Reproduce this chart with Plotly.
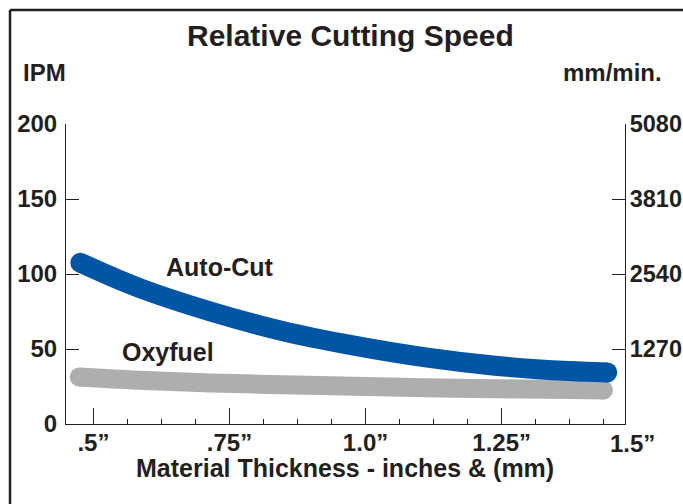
import plotly.graph_objects as go

# ---- data ----
auto_cut_thickness_in = [0.476, 0.582, 0.715, 0.847, 0.979, 1.110, 1.242, 1.374, 1.444]
auto_cut_ipm = [107.5, 91.0, 75.0, 62.0, 52.2, 44.4, 38.7, 35.3, 34.4]
oxyfuel_thickness_in = [0.474, 0.582, 0.715, 0.847, 0.979, 1.110, 1.242, 1.374, 1.437]
oxyfuel_ipm = [31.3, 29.2, 27.4, 26.2, 25.1, 24.2, 23.5, 23.0, 22.7]

x_tick_vals = [0.5, 0.75, 1.0, 1.25]
x_tick_text = [".5\u201d", ".75\u201d", "1.0\u201d", "1.25\u201d"]
x_last_tick_text = "1.5\u201d"
ipm_ticks = [0, 50, 100, 150, 200]
mm_ticks = [1270, 2540, 3810, 5080]

BLUE = "#0055A5"
GRAY = "#ADAEB0"
INK = "#231F20"
FONT = "Liberation Sans, Arial, Helvetica, sans-serif"

W, H = 683, 504
# plot box in page pixels
L, R, T, B = 66, 625, 124, 424


def px(xpage):
    return (xpage - L) / (R - L)


def py(ypage):
    return (B - ypage) / (B - T)


fig = go.Figure()


def add_band(xs, ys, color, width):
    fig.add_trace(go.Scatter(
        x=xs, y=ys, mode="lines",
        line=dict(color=color, width=width, shape="spline", smoothing=1.0),
        showlegend=False, hoverinfo="skip",
    ))
    fig.add_trace(go.Scatter(
        x=[xs[0], xs[-1]], y=[ys[0], ys[-1]], mode="markers",
        marker=dict(color=color, size=width, opacity=1, line=dict(width=0)),
        showlegend=False, hoverinfo="skip",
    ))


add_band(oxyfuel_thickness_in, oxyfuel_ipm, GRAY, 19)
add_band(auto_cut_thickness_in, auto_cut_ipm, BLUE, 20)
fig.add_trace(go.Scatter(x=[None], y=[None], yaxis="y2", showlegend=False))

tickfont = dict(family=FONT, size=24, color=INK, weight="bold")
righttickfont = dict(family=FONT, size=23.5, color=INK, weight="bold")
labelfont = dict(family=FONT, size=25, color=INK, weight="bold")

fig.update_layout(
    template="none",
    width=W, height=H,
    margin=dict(l=L, r=W - R, t=T, b=H - B, autoexpand=False),
    paper_bgcolor="white", plot_bgcolor="white",
    showlegend=False,
    xaxis=dict(
        range=[0.4497, 1.4766], showgrid=False, zeroline=False, automargin=False,
        showline=True, linecolor=INK, linewidth=1,
        tickmode="array", tickvals=x_tick_vals, ticktext=x_tick_text,
        ticks="inside", ticklen=16, tickcolor=INK, tickwidth=1,
        tickfont=tickfont, ticklabelstandoff=-3,
        minor=dict(ticks="inside", ticklen=5, tickcolor=INK, dtick=0.0625, tick0=0.5,
                   showgrid=False),
    ),
    yaxis=dict(
        range=[0, 200], showgrid=False, zeroline=False, automargin=False,
        showline=True, linecolor=INK, linewidth=1,
        tickmode="array", tickvals=ipm_ticks,
        ticks="inside", ticklen=13, tickcolor=INK, tickwidth=1,
        tickfont=tickfont, ticklabelstandoff=3,
    ),
    yaxis2=dict(
        range=[0, 5080], overlaying="y", side="right", showgrid=False, zeroline=False,
        automargin=False,
        showline=True, linecolor=INK, linewidth=1,
        tickmode="array", tickvals=mm_ticks,
        ticks="inside", ticklen=13, tickcolor=INK, tickwidth=1,
        tickfont=righttickfont, ticklabelstandoff=-1,
    ),
    shapes=[
        dict(type="line", xref="paper", yref="paper", x0=px(10), x1=px(700), y0=py(10), y1=py(10),
             line=dict(color=INK, width=2.5)),
        dict(type="line", xref="paper", yref="paper", x0=px(10), x1=px(10), y0=py(10), y1=py(520),
             line=dict(color=INK, width=2.5)),
    ],
    annotations=[
        dict(text="Relative Cutting Speed", xref="paper", yref="paper", x=px(350), y=py(35),
             xanchor="center", yanchor="middle", showarrow=False,
             font=dict(family=FONT, size=30, color=INK, weight="bold")),
        dict(text="IPM", xref="paper", yref="paper", x=px(21), y=py(72),
             xanchor="left", yanchor="middle", showarrow=False, font=tickfont),
        dict(text="mm/min.", xref="paper", yref="paper", x=px(664), y=py(72),
             xanchor="right", yanchor="middle", showarrow=False, font=tickfont),
        dict(text="Material Thickness - inches & (mm)", xref="paper", yref="paper",
             x=px(345), y=py(468), xanchor="center", yanchor="middle", showarrow=False,
             font=labelfont),
        dict(text=x_last_tick_text, xref="paper", yref="paper", x=px(632), y=py(443),
             xanchor="center", yanchor="middle", showarrow=False, font=tickfont),
        dict(text="Auto-Cut", xref="x", yref="y", x=0.732, y=104.5,
             xanchor="center", yanchor="middle", showarrow=False, font=labelfont),
        dict(text="Oxyfuel", xref="x", yref="y", x=0.637, y=48,
             xanchor="center", yanchor="middle", showarrow=False, font=labelfont),
    ],
)

fig.write_html(
    "out.html",
    config={"displayModeBar": False},
    post_script="document.body.style.margin='0';document.body.style.overflow='hidden';"
                "document.documentElement.style.overflow='hidden';",
)
